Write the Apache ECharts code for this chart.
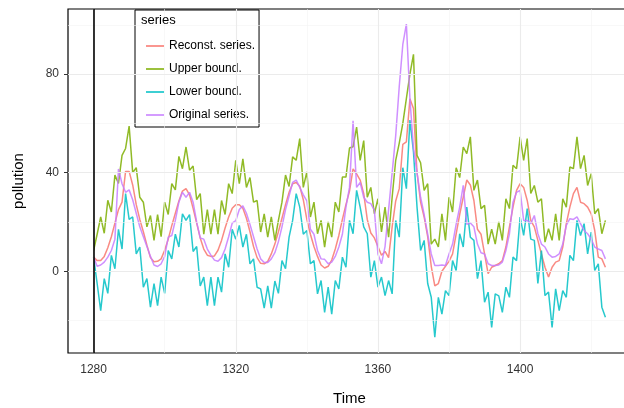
<!DOCTYPE html>
<html>
<head>
<meta charset="utf-8">
<script src="https://cdn.jsdelivr.net/npm/echarts@6/dist/echarts.min.js"></script>
<style>
html,body{margin:0;padding:0;background:#fff;}
#chart{width:624px;height:408px;}
</style>
</head>
<body>
<div id="chart"></div>
<script>
// ---- data ----
const timeStart = 1280;
const seriesNames = ['Reconst. series.', 'Upper bound.', 'Lower bound.', 'Original series.'];
const reconst = [5.7,4.3,4.3,6,9.5,14,19.5,25,28,40.5,40.5,35,27,21,16,10.5,5.5,3.8,4,5,
  8.5,13,18.5,23.5,28.5,32.5,33.5,31,25.5,19.5,13.5,9,6.5,6,6.2,8.5,12.5,17.5,22,25.5,
  27,27,25.5,21.5,16,10,5.5,3.2,3,4,7,11,16,21.5,27,32,35.5,36,34.5,29,
  21,15,10,6,2.5,1.3,2,4.5,9,14.5,21,27,32.5,41.5,39.5,37,31.5,21,15.5,13.5,
  10,6.5,8,5.5,18,28.5,33.5,51.5,52.5,70,66,40,28,22,14,2,-6,-5,0,2,
  4,7,15,23,30,37,35,28.7,17,15,7,-1,1.6,2.3,3,4.3,9.8,18,26,32.8,
  35.5,34,28.7,20.6,18,12.5,7,1.6,-2.4,1.6,3.7,4.3,9.8,19.3,26,31.5,34,28,27.4,26,
  23.3,16.5,5.7,5,1.6];
const upper = [8.4,15,22,15.4,28.8,24,39,35.6,47,49.8,58.9,40,42,30,28,18,22.6,12.5,23,14,
  28,23,35.5,33,46.6,41.6,50.4,41,42.7,29,31.5,15,25,15,25,15,28.7,23,35.5,31.5,
  45,35.5,45.6,34,38,28,28.7,15.9,23.3,13.8,22,12.5,20.6,28,39,34.4,46.4,45,53.8,34,
  40.3,22,28,15.2,20.6,9.8,20,13.8,28,24,38.2,38.2,50,50.5,58.5,45,53,30,34,23.3,
  29.4,15.9,26,13.8,30,45,52,60,70,80,88,47,44,32.8,35.5,11,13,9.8,23.3,12.5,
  30,24,42,38,50.4,47.7,54.5,32.8,37,25.4,26.7,11,17,11,20,12.5,29.4,25.4,43,41.6,
  54.5,45,53.8,31.5,34.8,28,29.4,11.8,17.2,12.5,23.3,12.5,29.4,26,42.3,41.6,54.5,41.6,47,34.8,
  39.6,23.3,25.4,15.2,20.6];
const lower = [5.7,-5,-16,-3,-9,6.4,1,17,9,31.5,21,22,7,9.8,-6.5,-3,-14.6,-5,-14,-2.4,
  -9,8.4,5,15,9.8,23.3,20.6,23,8,10,-6,-2.4,-14,-2.4,-14,-2.4,-8.5,7,1.6,17,
  13,18.6,9.8,15,3,5,-6.5,-7.2,-15,-6,-15,-4,-9,4.3,1,13.8,20.6,31.5,26,15,
  16.5,3,4.3,-9.2,-3.8,-16.7,-6.5,-17.4,-3.8,-7.2,5.7,1.6,20.6,15.2,32.8,26,18,15.2,-2.4,4.3,
  -6.5,-2.4,-9.9,-3.8,-9.2,20.6,13.8,42,33.5,61.3,48.4,26,8.4,12.5,-5,-10.6,-26.8,-10.6,-17.4,-7.9,
  -9.9,4.3,0.3,15.2,9.8,26,13.8,12.5,-3,4.3,-12.6,-8.5,-22.8,-9.2,-10,-16.7,-6.5,-10.6,5.7,4.3,
  22,14.5,25.4,13,12.5,-5,8.4,-9.9,-8.5,-22.8,-7.2,-16,-7.9,-10.6,6.4,4.3,20.6,14.5,19.3,7,
  15.9,0.3,3,-14.6,-18.7];
const original = [5.7,2,2.5,3.7,5.7,8.4,13,41.5,35.5,32,33,29,23.5,18,14,10,6,2.5,1.9,3,
  6,13.8,14.5,20.6,28,32,30,32,28,20,13.5,13,9,6.5,4.5,4,5.5,9,14,19.5,
  20.5,25,26.5,23.5,19,14,9,5,3.5,3.5,5,7.5,12,18,25,30.5,36,37,34,31,
  28.5,17,15,8.4,5,4.8,3,3.7,6,9.8,15,26,34,61,34,36,30,28,27.4,24.7,
  7,3,10,25,40,55,75,92,100.3,70,50,40,30,23,15,7,2.3,2.3,2.5,2.3,
  7,11,19,26,34.8,19,19.6,18,11,7.5,7,3,2.3,2.3,2.5,3.7,8.4,15.2,28,32,
  32.8,20.6,20.6,19.3,22.6,15.2,11,9.8,7,5.7,6,7,11,18.6,21.3,21,22,19.3,16.5,15.2,
  13,9.8,9,8.4,5];
const xTickLabels = [1280, 1320, 1360, 1400];
const xMinorGrid = [1300, 1340, 1380, 1420];
const yTickLabels = [0, 40, 80];
const yMinorGrid = [-20, 20, 60, 100];
const startLine = [1280];

// ---- chart ----
const colors = ['#F8766D', '#7CAE00', '#00BFC4', '#C77CFF'];
const FONT = 'Liberation Sans, Arial, Helvetica, sans-serif';
const values = [reconst, upper, lower, original];
function pairs(arr) { return arr.map((v, i) => [timeStart + i, v]); }

const gridMajor = { color: '#ebebeb', width: 1.1, type: 'solid' };
const gridMinor = { color: '#f4f4f4', width: 0.6, type: 'solid' };

const helper = {
  type: 'line', data: [], silent: true, z: 1, legendHoverLink: false,
  markLine: {
    silent: true, symbol: 'none', animation: false,
    label: { show: false },
    data: [
      ...xMinorGrid.map(v => ({ xAxis: v, lineStyle: gridMinor })),
      ...yMinorGrid.map(v => ({ yAxis: v, lineStyle: gridMinor })),
      ...xTickLabels.map(v => ({ xAxis: v, lineStyle: gridMajor })),
      ...yTickLabels.map(v => ({ yAxis: v, lineStyle: gridMajor }))
    ]
  }
};
const vline = {
  type: 'line', data: [], silent: true, z: 5, legendHoverLink: false,
  markLine: {
    silent: true, symbol: 'none', animation: false, label: { show: false },
    data: startLine.map(v => ({ xAxis: v, lineStyle: { color: '#000', width: 1.6, type: 'solid' } }))
  }
};

const dataSeries = seriesNames.map((n, k) => ({
  name: n, type: 'line', data: pairs(values[k]),
  symbol: 'none', showSymbol: false, z: 3,
  lineStyle: { color: colors[k], width: 1.5, opacity: 0.85 },
  itemStyle: { color: colors[k] }
}));

const lineIcon = 'path://M0,0 L20,0 L20,2 L0,2 Z';

const chart = echarts.init(document.getElementById('chart'), null, { renderer: 'canvas' });
chart.setOption({
  animation: false,
  backgroundColor: '#fff',
  textStyle: { fontFamily: FONT },
  title: {
    text: 'series', left: 141, top: 14, padding: 0, z: 10,
    textStyle: { fontSize: 13, fontWeight: 'normal', color: '#000', fontFamily: FONT }
  },
  legend: {
    data: seriesNames.map((n, k) => ({ name: n, icon: lineIcon, itemStyle: { color: colors[k], opacity: 0.85 } })),
    orient: 'vertical', left: 135, top: 10,
    padding: [30, 4, 6, 11], itemGap: 11, itemWidth: 18, itemHeight: 12,
    backgroundColor: '#fff', borderColor: '#000', borderWidth: 1, borderRadius: 0,
    selectedMode: false,
    textStyle: { fontSize: 12, color: '#000', fontFamily: FONT }
  },
  grid: { left: 68, right: -7, top: 9, bottom: 55, show: true, borderColor: '#000', borderWidth: 1.2, backgroundColor: '#fff', containLabel: false, outerBoundsMode: 'none' },
  xAxis: {
    type: 'value', min: 1272.8, max: 1431.2,
    name: 'Time', nameLocation: 'middle', nameGap: 38,
    nameTextStyle: { fontSize: 15, color: '#000', fontFamily: FONT },
    axisLine: { show: false },
    axisTick: { show: true, customValues: xTickLabels, length: 4, lineStyle: { color: '#333', width: 1 } },
    axisLabel: { show: true, customValues: xTickLabels, formatter: v => String(v), fontSize: 12, color: '#333', margin: 11, fontFamily: FONT },
    splitLine: { show: false }
  },
  yAxis: {
    type: 'value', min: -33.2, max: 106.4,
    name: 'pollution', nameLocation: 'middle', nameGap: 42, nameRotate: 90,
    nameTextStyle: { fontSize: 15, color: '#000', fontFamily: FONT },
    axisLine: { show: false },
    axisTick: { show: true, customValues: yTickLabels, length: 4, lineStyle: { color: '#333', width: 1 } },
    axisLabel: { show: true, customValues: yTickLabels, formatter: v => String(v), fontSize: 12, color: '#333', margin: 9, fontFamily: FONT },
    splitLine: { show: false }
  },
  series: [helper, ...dataSeries, vline]
});
</script>
</body>
</html>
